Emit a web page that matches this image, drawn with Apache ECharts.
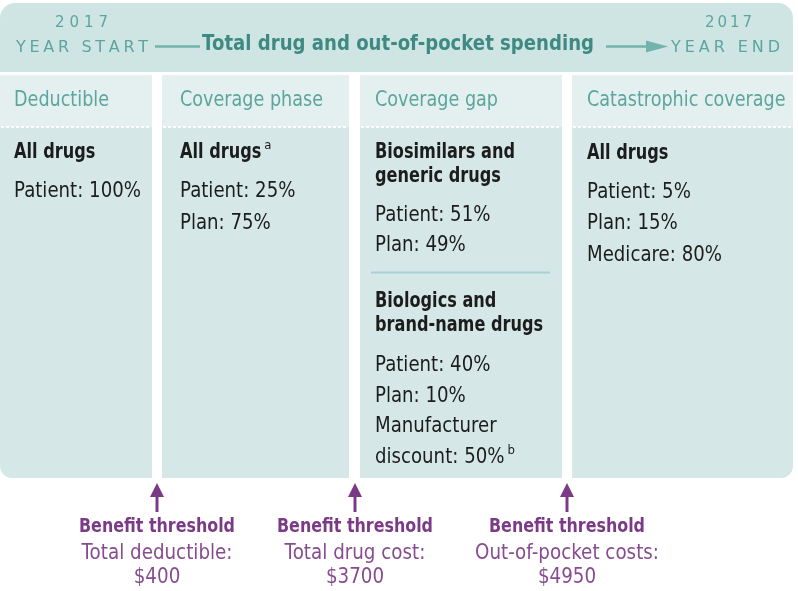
<!DOCTYPE html>
<html><head><meta charset="utf-8">
<script src="https://cdn.jsdelivr.net/npm/echarts@6/dist/echarts.min.js"></script>
<style>html,body{margin:0;padding:0;background:#fff}#c{width:798px;height:591px}</style>
</head><body><div id="c"></div>
<script>
// ---- content ----
const yearLabel = '2017';
const startLabel = 'YEAR START';
const endLabel = 'YEAR END';
const titleText = 'Total drug and out-of-pocket spending';
const phaseNames = ['Deductible', 'Coverage phase', 'Coverage gap', 'Catastrophic coverage'];
const allDrugsLabel = 'All drugs';
const deductibleShares = ['Patient: 100%'];
const coverageShares = ['Patient: 25%', 'Plan: 75%'];
const gapGenericTitle = ['Biosimilars and', 'generic drugs'];
const gapGenericShares = ['Patient: 51%', 'Plan: 49%'];
const gapBrandTitle = ['Biologics and', 'brand-name drugs'];
const gapBrandShares = ['Patient: 40%', 'Plan: 10%', 'Manufacturer', 'discount: 50%'];
const catastrophicShares = ['Patient: 5%', 'Plan: 15%', 'Medicare: 80%'];
const footnoteMarks = ['a', 'b'];
const thresholdTitle = 'Benefit threshold';
const thresholdLabels = ['Total deductible:', 'Total drug cost:', 'Out-of-pocket costs:'];
const thresholdAmounts = ['$400', '$3700', '$4950'];

// ---- layout & style ----
const FONT = '"DejaVu Sans", sans-serif';
const C = {
  band: '#cfe5e3', head: '#e3f0ef', body: '#d5e8e7', title: '#3f8983',
  teal: '#5ca59e', line: '#72b4ad', sep: '#a8d2d0', ink: '#1c1c1c',
  purple: '#7b3a86', purpleText: '#874b90'
};
const cols = [[0, 152], [162, 349], [360, 562], [572, 793]];
const textX = [14, 180, 375, 587];
const arrowX = [157, 355, 567];

const mctx = document.createElement('canvas').getContext('2d');
function measure(str, size, weight) {
  mctx.font = (weight || 'normal') + ' ' + size + 'px ' + FONT;
  return mctx.measureText(str).width;
}
// text styles: glyph size + horizontal condensing fitted to a sample width
function mkStyle(size, weight, sample, width) {
  return { size: size, weight: weight, sx: width / measure(sample, size, weight) };
}
const S = {
  body: mkStyle(21, 'normal', 'Patient: 100%', 127),
  bold: mkStyle(20.5, 'bold', 'Biosimilars and', 140),
  head: mkStyle(21, 'normal', 'Coverage phase', 143),
  title: mkStyle(22, 'bold', titleText, 392),
  thrBold: mkStyle(19, 'bold', thresholdTitle, 156),
  thr: mkStyle(21, 'normal', 'Total deductible:', 151),
  sup: { size: 13, weight: 'normal', sx: 0.9 }
};

function txt(str, x, y, st, fill, align) {
  return {
    type: 'text', x: x, y: y, scaleX: st.sx, silent: true,
    style: {
      text: str, x: 0, y: 0, fill: fill || C.ink, fontSize: st.size,
      fontWeight: st.weight, fontFamily: FONT,
      align: align || 'left', textAlign: align || 'left',
      verticalAlign: 'middle', textVerticalAlign: 'middle'
    }
  };
}
function spaced(str, x0, x1, y, size, color) {
  const chars = [...str];
  const ws = chars.map(c => measure(c, size));
  const total = ws.reduce((a, b) => a + b, 0);
  const gap = (x1 - x0 - total) / (chars.length - 1);
  let x = x0; const out = [];
  const st = { size: size, weight: 'normal', sx: 1 };
  chars.forEach((c, i) => { if (c !== ' ') out.push(txt(c, x, y, st, color)); x += ws[i] + gap; });
  return out;
}

const g = [];
// header band
g.push({ type: 'rect', shape: { x: 0, y: 3, width: 793, height: 69, r: [15, 15, 0, 0] }, style: { fill: C.band }, silent: true });
// columns
cols.forEach((c, i) => {
  const r = i === 0 ? [0, 0, 0, 12] : (i === cols.length - 1 ? [0, 0, 12, 0] : 0);
  g.push({ type: 'rect', shape: { x: c[0], y: 75, width: c[1] - c[0], height: 403, r: r }, style: { fill: C.body }, silent: true });
  g.push({ type: 'rect', shape: { x: c[0], y: 75, width: c[1] - c[0], height: 52 }, style: { fill: C.head }, silent: true });
  g.push({ type: 'line', shape: { x1: c[0] + 1, y1: 127, x2: c[1] - 1, y2: 127 }, style: { stroke: '#ffffff', lineWidth: 2, lineDash: [3, 2] }, silent: true });
  g.push(txt(phaseNames[i], textX[i], 100.5, S.head, C.teal));
});

// header texts
g.push(...spaced(yearLabel, 55, 108, 23.5, 15, C.teal));
g.push(...spaced(startLabel, 16, 148, 47.5, 16, C.teal));
g.push(...spaced(yearLabel, 705, 752, 23.5, 15, C.teal));
g.push(...spaced(endLabel, 671, 780, 47.5, 16, C.teal));
g.push({ type: 'line', shape: { x1: 155, y1: 46.5, x2: 200, y2: 46.5 }, style: { stroke: C.line, lineWidth: 2.5 }, silent: true });
g.push(txt(titleText, 398, 44, S.title, C.title, 'center'));
g.push({ type: 'line', shape: { x1: 606, y1: 46.5, x2: 652, y2: 46.5 }, style: { stroke: C.line, lineWidth: 2.5 }, silent: true });
g.push({ type: 'polygon', shape: { points: [[646, 40.5], [668, 46.5], [646, 52.5]] }, style: { fill: C.line }, silent: true });

function sup(mark, baseStr, x, y, st) {
  const w = measure(baseStr, st.size, st.weight) * st.sx;
  return txt(mark, x + w + 3, y - 7, S.sup);
}

// column 1
g.push(txt(allDrugsLabel, textX[0], 152.5, S.bold));
deductibleShares.forEach((s, i) => g.push(txt(s, textX[0], 191.5 + i * 31.5, S.body)));
// column 2
g.push(txt(allDrugsLabel, textX[1], 152.5, S.bold));
g.push(sup(footnoteMarks[0], allDrugsLabel, textX[1], 152.5, S.bold));
coverageShares.forEach((s, i) => g.push(txt(s, textX[1], 191.5 + i * 32.5, S.body)));
// column 3
gapGenericTitle.forEach((s, i) => g.push(txt(s, textX[2], 152.5 + i * 24, S.bold)));
gapGenericShares.forEach((s, i) => g.push(txt(s, textX[2], 215.5 + i * 30, S.body)));
g.push({ type: 'line', shape: { x1: 371, y1: 272.5, x2: 550, y2: 272.5 }, style: { stroke: C.sep, lineWidth: 2 }, silent: true });
gapBrandTitle.forEach((s, i) => g.push(txt(s, textX[2], 301.5 + i * 24.5, S.bold)));
gapBrandShares.forEach((s, i) => g.push(txt(s, textX[2], 365.5 + i * 30.7, S.body)));
g.push(sup(footnoteMarks[1], gapBrandShares[3], textX[2], 365.5 + 3 * 30.7, S.body));
// column 4
g.push(txt(allDrugsLabel, textX[3], 153.5, S.bold));
catastrophicShares.forEach((s, i) => g.push(txt(s, textX[3], 192.5 + i * 31.3, S.body)));

// thresholds
arrowX.forEach((x, i) => {
  g.push({ type: 'line', shape: { x1: x, y1: 495, x2: x, y2: 512 }, style: { stroke: C.purple, lineWidth: 3 }, silent: true });
  g.push({ type: 'polygon', shape: { points: [[x - 7, 497], [x, 483], [x + 7, 497]] }, style: { fill: C.purple }, silent: true });
  g.push(txt(thresholdTitle, x, 527, S.thrBold, C.purple, 'center'));
  g.push(txt(thresholdLabels[i], x, 553.5, S.thr, C.purpleText, 'center'));
  g.push(txt(thresholdAmounts[i], x, 577.5, S.thr, C.purpleText, 'center'));
});

const chart = echarts.init(document.getElementById('c'), null, { renderer: 'canvas' });
chart.setOption({ animation: false, backgroundColor: '#ffffff', graphic: { elements: g } });
</script>
</body></html>
